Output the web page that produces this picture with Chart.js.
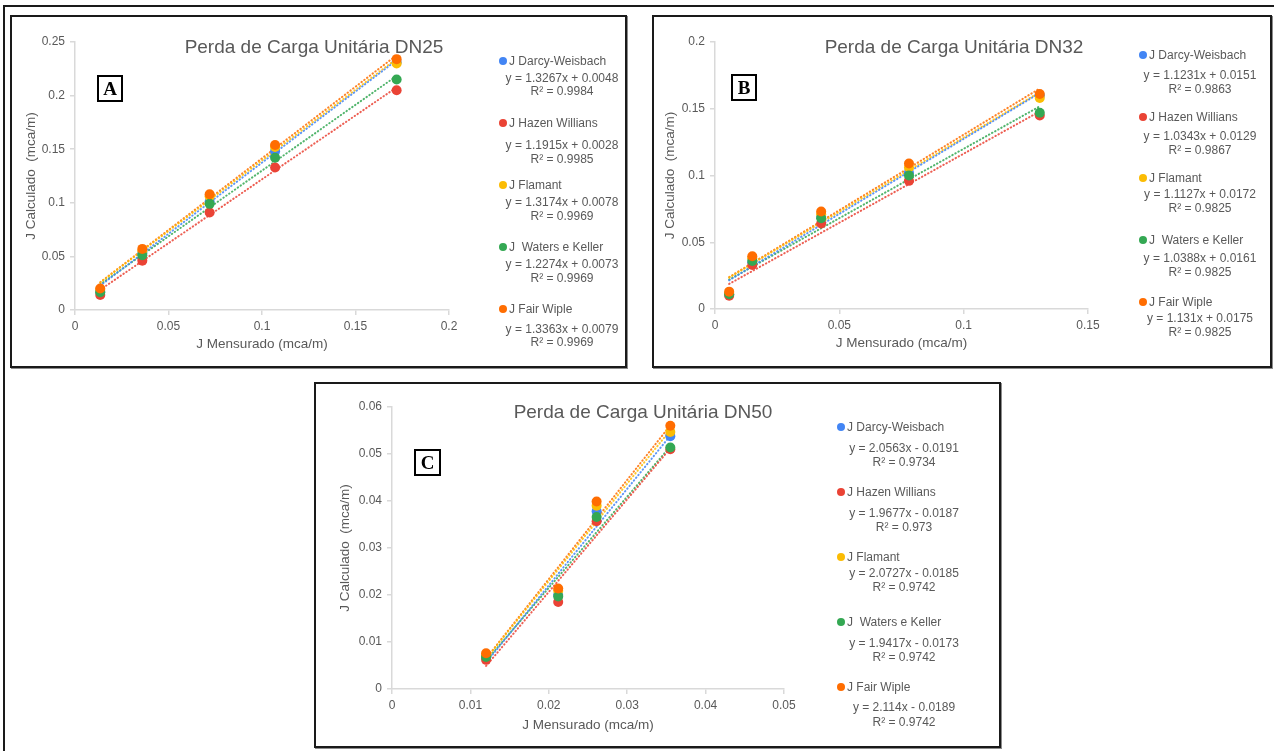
<!DOCTYPE html>
<html lang="pt">
<head>
<meta charset="UTF-8">
<title>Perda de Carga Unitária</title>
<script src="https://cdn.jsdelivr.net/npm/chart.js"></script>
<style>
  body { margin: 0; width: 1274px; height: 751px; overflow: hidden; background: #fff; position: relative;
         font-family: "Liberation Sans", Arial, sans-serif; }
  .moldura { position: absolute; border: 2px solid #1a1a1a; box-shadow: 1px 1px 0 #8c8c8c; box-sizing: border-box; }
  .letra { position: absolute; border: 2px solid #000; box-sizing: border-box; text-align: center;
           font-family: "Liberation Serif", "Times New Roman", serif; font-weight: bold; font-size: 19px; line-height: 23px; }
  .titulo { position: absolute; width: 400px; text-align: center; font-size: 19px; line-height: 22px; color: #595959; }
  .leg { position: absolute; font-size: 12px; line-height: 14px; color: #595959; white-space: pre; }
  .dot { position: absolute; width: 8px; height: 8px; border-radius: 50%; }
  canvas { position: absolute; }
</style>
</head>
<body>
  <div class="moldura" style="left:3px; top:5px; width:1300px; height:800px;"></div>
  <div class="moldura" style="left:10px; top:15px; width:617px; height:353px;"></div>
  <div class="moldura" style="left:652px; top:15px; width:620px; height:353px;"></div>
  <div class="moldura" style="left:314px; top:382px; width:687px; height:366px;"></div>

  <canvas id="dn25" width="451" height="336" style="left:19px; top:20px;"></canvas>
  <canvas id="dn32" width="452" height="335" style="left:658px; top:20px;"></canvas>
  <canvas id="dn50" width="473" height="352" style="left:333px; top:385px;"></canvas>

  <div class="titulo" style="left:114px; top:36px;">Perda de Carga Unitária DN25</div>
  <div class="titulo" style="left:754px; top:36px;">Perda de Carga Unitária DN32</div>
  <div class="titulo" style="left:443px; top:401px;">Perda de Carga Unitária DN50</div>

  <div class="letra" style="left:97px; top:75px; width:26px; height:27px;">A</div>
  <div class="letra" style="left:731px; top:74px; width:26px; height:27px;">B</div>
  <div class="letra" style="left:414px; top:449px; width:27px; height:27px;">C</div>

<script>
  const nomes = ['J Darcy-Weisbach', 'J Hazen Willians', 'J Flamant', 'J  Waters e Keller', 'J Fair Wiple'];
  const cores = ['#4285F4', '#EA4335', '#FBBC04', '#34A853', '#FF6D01'];

  // DN25
  const xDN25 = [0.0135, 0.036, 0.072, 0.107, 0.172];
  const darcyDN25 = [0.017, 0.053, 0.101, 0.148, 0.231];
  const hazenDN25 = [0.014, 0.046, 0.091, 0.133, 0.205];
  const flamantDN25 = [0.019, 0.055, 0.106, 0.152, 0.230];
  const watersDN25 = [0.0165, 0.051, 0.099, 0.142, 0.215];
  const fairDN25 = [0.020, 0.057, 0.108, 0.154, 0.234];
  const tendIniDN25 = [0.0227, 0.0189, 0.0256, 0.0239, 0.0259];
  const tendFimDN25 = [0.2330, 0.2077, 0.2344, 0.2184, 0.2377];
  const eqDN25 = ['y = 1.3267x + 0.0048', 'y = 1.1915x + 0.0028', 'y = 1.3174x + 0.0078', 'y = 1.2274x + 0.0073', 'y = 1.3363x + 0.0079'];
  const r2DN25 = ['R² = 0.9984', 'R² = 0.9985', 'R² = 0.9969', 'R² = 0.9969', 'R² = 0.9969'];

  // DN32
  const xDN32 = [0.0057, 0.015, 0.0427, 0.078, 0.1306];
  const darcyDN32 = [0.011, 0.035, 0.069, 0.102, 0.160];
  const hazenDN32 = [0.010, 0.033, 0.064, 0.096, 0.145];
  const flamantDN32 = [0.012, 0.038, 0.071, 0.106, 0.158];
  const watersDN32 = [0.011, 0.036, 0.068, 0.100, 0.147];
  const fairDN32 = [0.013, 0.0395, 0.073, 0.109, 0.161];
  const tendIniDN32 = [0.0215, 0.0188, 0.0235, 0.0220, 0.0239];
  const tendFimDN32 = [0.1618, 0.1480, 0.1625, 0.1518, 0.1652];
  const eqDN32 = ['y = 1.1231x + 0.0151', 'y = 1.0343x + 0.0129', 'y = 1.1127x + 0.0172', 'y = 1.0388x + 0.0161', 'y = 1.131x + 0.0175'];
  const r2DN32 = ['R² = 0.9863', 'R² = 0.9867', 'R² = 0.9825', 'R² = 0.9825', 'R² = 0.9825'];

  // DN50
  const xDN50 = [0.012, 0.0212, 0.0261, 0.0355];
  const darcyDN50 = [0.0068, 0.0200, 0.0378, 0.0538];
  const hazenDN50 = [0.0062, 0.0185, 0.0357, 0.0510];
  const flamantDN50 = [0.0072, 0.0209, 0.0390, 0.0547];
  const watersDN50 = [0.0068, 0.0197, 0.0366, 0.0514];
  const fairDN50 = [0.0076, 0.0214, 0.0399, 0.0560];
  const tendIniDN50 = [0.0056, 0.0049, 0.0064, 0.0060, 0.0065];
  const tendFimDN50 = [0.0539, 0.0512, 0.0551, 0.0516, 0.0561];
  const eqDN50 = ['y = 2.0563x - 0.0191', 'y = 1.9677x - 0.0187', 'y = 2.0727x - 0.0185', 'y = 1.9417x - 0.0173', 'y = 2.114x - 0.0189'];
  const r2DN50 = ['R² = 0.9734', 'R² = 0.973', 'R² = 0.9742', 'R² = 0.9742', 'R² = 0.9742'];

  Chart.defaults.font.family = '"Liberation Sans", Arial, sans-serif';
  Chart.defaults.color = '#595959';

  function grafico(id, xs, series, tIni, tFim, xMax, yMax, passoX, passoY, larguraY, alturaX, padTop, padRight) {
    const datasets = [];
    series.forEach(function (ys, i) {
      datasets.push({
        label: nomes[i],
        data: xs.map(function (x, k) { return { x: x, y: ys[k] }; }),
        backgroundColor: cores[i],
        borderColor: cores[i],
        pointRadius: 5,
        pointBorderWidth: 0,
        order: 5 - i
      });
    });
    // linhas de tendencia (pontilhadas)
    series.forEach(function (ys, i) {
      datasets.push({
        label: 'Linear (' + nomes[i] + ')',
        data: [{ x: xs[0], y: tIni[i] }, { x: xs[xs.length - 1], y: tFim[i] }],
        showLine: true,
        pointRadius: 0,
        borderColor: cores[i] + 'D9',
        borderWidth: 2,
        borderDash: [0.5, 3],
        borderCapStyle: 'round',
        order: 10 + i
      });
    });

    const fmt = function (v) { return String(+v.toFixed(4)); };

    new Chart(document.getElementById(id), {
      type: 'scatter',
      data: { datasets: datasets },
      options: {
        responsive: false,
        animation: false,
        layout: { padding: { top: padTop, right: padRight, bottom: 0, left: 0 } },
        plugins: { legend: { display: false }, tooltip: { enabled: false } },
        scales: {
          x: {
            type: 'linear', min: 0, max: xMax,
            ticks: { stepSize: passoX, callback: fmt, font: { size: 12 }, padding: 4, color: '#595959' },
            grid: { drawOnChartArea: false, drawTicks: true, tickLength: 5, color: '#d9d9d9', lineWidth: 1.5 },
            border: { color: '#d9d9d9', width: 1.5 },
            title: { display: true, text: 'J Mensurado (mca/m)', font: { size: 13.5 }, color: '#595959' },
            afterFit: function (s) { s.height = alturaX; }
          },
          y: {
            type: 'linear', min: 0, max: yMax,
            ticks: { stepSize: passoY, callback: fmt, font: { size: 12 }, padding: 5, color: '#595959' },
            grid: { drawOnChartArea: false, drawTicks: true, tickLength: 5, color: '#d9d9d9', lineWidth: 1.5 },
            border: { color: '#d9d9d9', width: 1.5 },
            title: { display: true, text: 'J Calculado  (mca/m)', font: { size: 13.5 }, color: '#595959' },
            afterFit: function (s) { s.width = larguraY; }
          }
        }
      }
    });
  }

  function texto(t, x, y, centro) {
    const e = document.createElement('div');
    e.className = 'leg';
    e.textContent = t;
    if (centro) {
      e.style.left = (x - 100) + 'px';
      e.style.width = '200px';
      e.style.textAlign = 'center';
    } else {
      e.style.left = x + 'px';
    }
    e.style.top = (y - 7) + 'px';
    document.body.appendChild(e);
  }

  function legenda(dotX, eqX, linhas, eqs, r2s) {
    linhas.forEach(function (l, i) {
      const d = document.createElement('div');
      d.className = 'dot';
      d.style.left = (dotX - 4) + 'px';
      d.style.top = (l[0] - 4) + 'px';
      d.style.background = cores[i];
      document.body.appendChild(d);
      texto(nomes[i], dotX + 6, l[0], false);
      texto(eqs[i], eqX, l[1], true);
      texto(r2s[i], eqX, l[2], true);
    });
  }

  grafico('dn25', xDN25, [darcyDN25, hazenDN25, flamantDN25, watersDN25, fairDN25], tendIniDN25, tendFimDN25,
    0.2, 0.25, 0.05, 0.05, 56, 46, 22, 21);
  grafico('dn32', xDN32, [darcyDN32, hazenDN32, flamantDN32, watersDN32, fairDN32], tendIniDN32, tendFimDN32,
    0.15, 0.2, 0.05, 0.05, 57, 46, 22, 22);
  grafico('dn50', xDN50, [darcyDN50, hazenDN50, flamantDN50, watersDN50, fairDN50], tendIniDN50, tendFimDN50,
    0.05, 0.06, 0.01, 0.01, 59, 48, 22, 22);

  legenda(503, 562, [[61, 78, 91], [123, 145, 159], [185, 202, 216], [247, 264, 278], [309, 329, 342]], eqDN25, r2DN25);
  legenda(1143, 1200, [[55, 75, 89], [117, 136, 150], [178, 194, 208], [240, 258, 272], [302, 318, 332]], eqDN32, r2DN32);
  legenda(841, 904, [[427, 448, 462], [492, 513, 527], [557, 573, 587], [622, 643, 657], [687, 707, 722]], eqDN50, r2DN50);
</script>
</body>
</html>
